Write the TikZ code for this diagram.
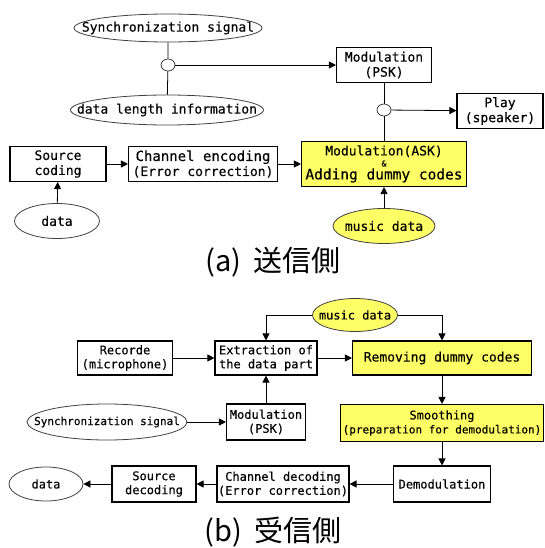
\documentclass[tikz,border=0pt]{standalone}
\usepackage{fontspec}
\newfontfamily\boxfont[FakeBold=0.25]{DejaVu Sans Mono}
\newfontfamily\jpfont{Noto Sans CJK JP}
\usepackage{tikz}
\usetikzlibrary{arrows.meta, shapes.geometric}

\definecolor{hlyellow}{RGB}{255,255,102}

\begin{document}
\begin{tikzpicture}[
  x=1pt, y=-1pt,
  block/.style = {draw, line width=1.1pt, fill=white, minimum height=35, inner sep=1pt, align=center},
  hlblock/.style = {block, fill=hlyellow},
  oval/.style = {draw=black!75, ellipse, line width=0.8pt, fill=white, inner xsep=-40pt, inner ysep=-8pt},
  junc/.style = {draw=black!75, ellipse, line width=0.8pt, fill=white, minimum width=14, minimum height=12, inner sep=0pt},
  arrow/.style = {line width=0.8pt, -{Triangle[length=7pt,width=7pt]}},
  link/.style = {line width=0.8pt},
  afont/.style = {font=\boxfont\fontsize{13}{15}\selectfont},
  bfont/.style = {font=\boxfont\fontsize{12}{14}\selectfont},
  caption/.style = {font=\jpfont\fontsize{29}{32}\selectfont}
]
\useasboundingbox (0,0) rectangle (544,548);

%%% (a) sending side

% Synchronization signal and data length information
\node[oval, afont, minimum width=188, minimum height=28] (syncA) at (168,28) {Synchronization signal};
\node[junc] (juncA) at (168,65) {};
\node[oval, afont, minimum width=193, minimum height=30] (lenA) at (167,110) {data length information};

% PSK modulation and speaker
\node[block, afont, minimum width=95] (pskA) at (384,65) {Modulation\\(PSK)};
\node[junc] (juncB) at (384,110) {};
\node[block, afont, minimum width=86] (playA) at (500,111) {Play\\(speaker)};

% Coding chain
\node[block, afont, minimum width=96] (srcA) at (58,164) {Source\\coding};
\node[block, afont, minimum width=149] (chA) at (203,164) {{\fontsize{14}{15}\selectfont Channel encoding}\\(Error correction)};
\node[hlblock, afont, minimum width=165, minimum height=45] (askA) at (384,164)
  {Modulation(ASK)\\[-4pt]{\fontsize{8}{8}\selectfont\&}\\[-2pt]{\fontsize{14.5}{15}\selectfont Adding dummy codes}};

% Inputs
\node[oval, afont, minimum width=85, minimum height=35] (dataA) at (57,221) {data};
\node[oval, afont, fill=hlyellow, minimum width=102, minimum height=35] (musicA) at (384,226) {music data};

\node[caption] (capA) at (273,262) {(a)\hspace{0.4em}送信側};

% Connectors (a)
\draw[link] (syncA) -- (juncA) -- (lenA);
\draw[arrow] (juncA) -- (pskA);
\draw[link] (pskA) -- (juncB) -- (askA);
\draw[arrow] (juncB) -- (playA);
\draw[arrow] (srcA) -- (chA);
\draw[arrow] (chA) -- (askA);
\draw[arrow] (dataA) -- (srcA);
\draw[arrow] (musicA) -- (askA);

%%% (b) receiving side

% Music data and first row
\node[oval, bfont, fill=hlyellow, minimum width=85, minimum height=33] (musicB) at (355,315) {music data};
\node[block, bfont, minimum width=95, minimum height=34] (recB) at (125,358) {Recorde\\(microphone)};
\node[block, bfont, minimum width=102, minimum height=34] (extB) at (266,358) {Extraction of\\the data part};
\node[hlblock, bfont, minimum width=179, minimum height=34] (remB) at (442,358) {{\fontsize{13}{14}\selectfont Removing dummy codes}};

% Second row
\node[oval, bfont, minimum width=160, minimum height=36] (syncB) at (107,422) {{\fontsize{11}{13}\selectfont Synchronization signal}};
\node[block, bfont, minimum width=79, minimum height=36] (pskB) at (266,422) {Modulation\\(PSK)};
\node[hlblock, bfont, minimum width=203, minimum height=37] (smoB) at (442,423)
  {Smoothing\\{\fontsize{11}{13}\selectfont(preparation for demodulation)}};

% Third row
\node[block, bfont, minimum width=97, minimum height=36] (demB) at (442,484) {Demodulation};
\node[block, bfont, minimum width=122, minimum height=36] (chB) at (283,484) {Channel decoding\\(Error correction)};
\node[block, bfont, minimum width=84, minimum height=36] (srcB) at (154,484) {Source\\decoding};
\node[oval, bfont, minimum width=74, minimum height=34] (dataB) at (46,484) {data};

\node[caption] (capB) at (273,532) {(b)\hspace{0.4em}受信側};

% Connectors (b)
\draw[arrow] (musicB.west) -| (extB.north);
\draw[arrow] (musicB.east) -| (remB.north);
\draw[arrow] (recB) -- (extB);
\draw[arrow] (extB) -- (remB);
\draw[arrow] (pskB) -- (extB);
\draw[arrow] (syncB) -- (pskB);
\draw[arrow] (remB) -- (smoB);
\draw[arrow] (smoB) -- (demB);
\draw[arrow] (demB) -- (chB);
\draw[arrow] (chB) -- (srcB);
\draw[arrow] (srcB) -- (dataB);

\end{tikzpicture}
\end{document}
